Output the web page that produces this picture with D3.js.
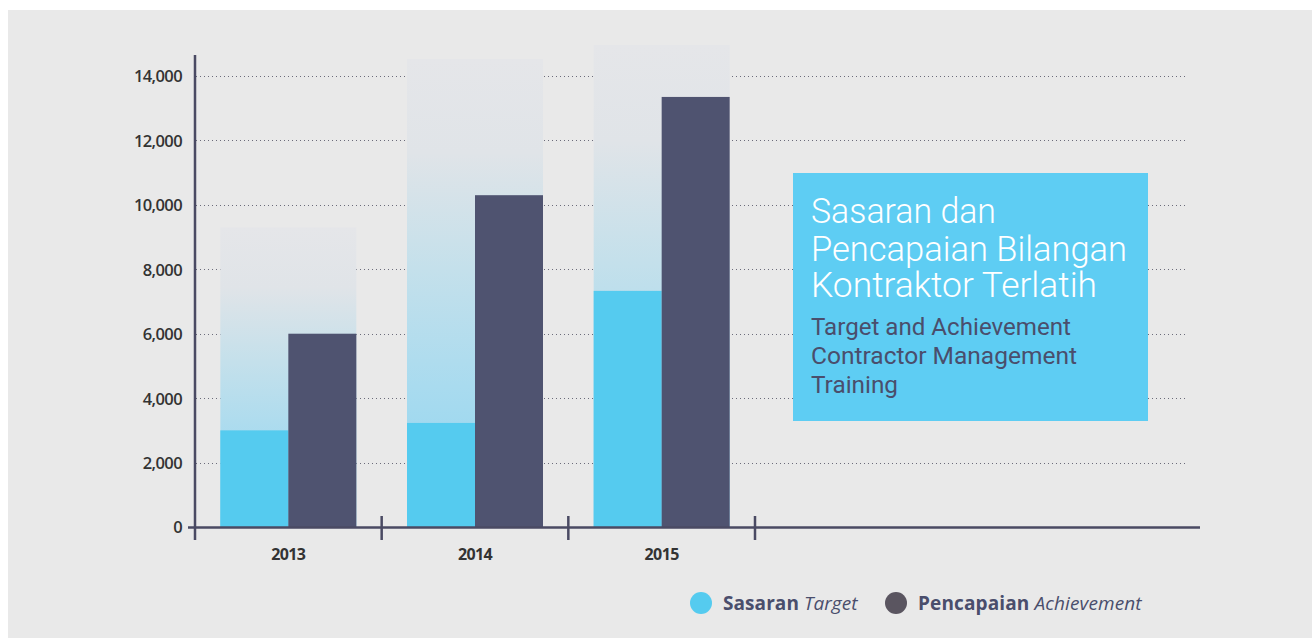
<!DOCTYPE html>
<html>
<head>
<meta charset="utf-8">
<script src="https://cdn.jsdelivr.net/npm/d3@7"></script>
<style>
  body { margin: 0; background: #fff; }
  svg { display: block; }
</style>
</head>
<body>
<div id="chart"></div>
<script>
var years = ["2013", "2014", "2015"];
var target = [3000, 3230, 7330];        // Sasaran
var achievement = [6000, 10300, 13350]; // Pencapaian
var backdrop = [9300, 14530, 14960];    // faded column behind each pair
var yTicks = [0, 2000, 4000, 6000, 8000, 10000, 12000, 14000];

var w = 1312, h = 638;

var svg = d3.select("#chart")
  .append("svg")
  .attr("width", w)
  .attr("height", h);

svg.append("rect")
  .attr("x", 8).attr("y", 10)
  .attr("width", w - 8).attr("height", h - 10)
  .attr("fill", "#e9e9e9");

// gradient for backdrop columns (relative to each column)
var defs = svg.append("defs");
var grad = defs.append("linearGradient")
  .attr("id", "fade")
  .attr("x1", 0).attr("x2", 0)
  .attr("y1", 1).attr("y2", 0);
grad.append("stop").attr("offset", "0%").attr("stop-color", "#8dd4ef");
grad.append("stop").attr("offset", "30%").attr("stop-color", "#a9dbef");
grad.append("stop").attr("offset", "55%").attr("stop-color", "#c4e0eb");
grad.append("stop").attr("offset", "80%").attr("stop-color", "#e0e4e8");
grad.append("stop").attr("offset", "100%").attr("stop-color", "#e5e6e9");

var x = d3.scaleBand()
  .domain(years)
  .range([195, 755])
  .paddingInner(0)
  .paddingOuter(0);

var y = d3.scaleLinear()
  .domain([0, 14000])
  .range([527, 76]);

var barW = 68;
var offset = (x.bandwidth() - 2 * barW) / 2;

// dotted grid lines
svg.append("g")
  .selectAll("line")
  .data(yTicks.slice(1))
  .enter()
  .append("line")
    .attr("x1", 196)
    .attr("x2", 1185)
    .attr("y1", function(d) { return Math.round(y(d)) + 0.5; })
    .attr("y2", function(d) { return Math.round(y(d)) + 0.5; })
    .attr("stroke", "#6b6b7a")
    .attr("stroke-width", 1)
    .style("stroke-dasharray", "1,3");

// backdrop columns
svg.append("g")
  .selectAll("rect")
  .data(backdrop)
  .enter()
  .append("rect")
    .attr("x", function(d, i) { return x(years[i]) + offset; })
    .attr("y", function(d) { return y(d); })
    .attr("width", barW * 2)
    .attr("height", function(d) { return y(0) - y(d); })
    .attr("fill", "url(#fade)");

// target bars
svg.append("g")
  .selectAll("rect")
  .data(target)
  .enter()
  .append("rect")
    .attr("x", function(d, i) { return x(years[i]) + offset; })
    .attr("y", function(d) { return y(d); })
    .attr("width", barW)
    .attr("height", function(d) { return y(0) - y(d); })
    .attr("fill", "#55cbef");

// achievement bars
svg.append("g")
  .selectAll("rect")
  .data(achievement)
  .enter()
  .append("rect")
    .attr("x", function(d, i) { return x(years[i]) + offset + barW; })
    .attr("y", function(d) { return y(d); })
    .attr("width", barW)
    .attr("height", function(d) { return y(0) - y(d); })
    .attr("fill", "#4f5370");

// y axis
var yAxis = d3.axisLeft(y)
  .tickValues(yTicks)
  .tickSize(7)
  .tickFormat(d3.format(","));

var gy = svg.append("g")
  .attr("transform", "translate(195,0)")
  .call(yAxis);
gy.select(".domain").remove();
gy.selectAll(".tick line").remove();
gy.selectAll(".tick text")
  .attr("x", -13)
  .attr("dy", "0.36em")
  .style("font-family", "'Open Sans', sans-serif")
  .style("font-size", "16.5px")
  .style("font-weight", 600)
  .style("letter-spacing", "-0.6px")
  .attr("fill", "#333");

svg.append("line")
  .attr("x1", 195).attr("x2", 195)
  .attr("y1", 55).attr("y2", 540)
  .attr("stroke", "#4a4a63")
  .attr("stroke-width", 2.5);

// x axis
svg.append("line")
  .attr("x1", 188).attr("x2", 1200)
  .attr("y1", 527.5).attr("y2", 527.5)
  .attr("stroke", "#4a4a63")
  .attr("stroke-width", 2.5);

svg.append("g")
  .selectAll("line")
  .data(years)
  .enter()
  .append("line")
    .attr("x1", function(d) { return x(d) + x.bandwidth(); })
    .attr("x2", function(d) { return x(d) + x.bandwidth(); })
    .attr("y1", 516).attr("y2", 540)
    .attr("stroke", "#4a4a63")
    .attr("stroke-width", 2.5);

svg.append("g")
  .selectAll("text")
  .data(years)
  .enter()
  .append("text")
    .attr("x", function(d) { return x(d) + x.bandwidth() / 2; })
    .attr("y", 560)
    .attr("text-anchor", "middle")
    .style("font-family", "'Open Sans', sans-serif")
    .style("font-size", "16px")
    .style("font-weight", 700)
    .style("letter-spacing", "-0.6px")
    .attr("fill", "#333")
    .text(function(d) { return d; });

// title box
svg.append("rect")
  .attr("x", 793).attr("y", 173)
  .attr("width", 355).attr("height", 248)
  .attr("fill", "#5ecdf3");

var titleLines = [
  {t: "Sasaran dan", y: 223, len: 185},
  {t: "Pencapaian Bilangan", y: 261, len: 316},
  {t: "Kontraktor Terlatih", y: 297, len: 286}
];
svg.append("g")
  .selectAll("text")
  .data(titleLines)
  .enter()
  .append("text")
    .attr("x", 811)
    .attr("y", function(d) { return d.y; })
    .attr("textLength", function(d) { return d.len; })
    .attr("lengthAdjust", "spacingAndGlyphs")
    .style("font-family", "Roboto, sans-serif")
    .style("font-size", "35px")
    .style("font-weight", 300)
    .attr("fill", "#fff")
    .text(function(d) { return d.t; });

var subLines = [
  {t: "Target and Achievement", y: 335, len: 260},
  {t: "Contractor Management", y: 364, len: 266},
  {t: "Training", y: 393, len: 87}
];
svg.append("g")
  .selectAll("text")
  .data(subLines)
  .enter()
  .append("text")
    .attr("x", 811)
    .attr("y", function(d) { return d.y; })
    .attr("textLength", function(d) { return d.len; })
    .attr("lengthAdjust", "spacingAndGlyphs")
    .style("font-family", "Roboto, sans-serif")
    .style("font-size", "24px")
    .style("font-weight", 400)
    .attr("fill", "#4a4e6c")
    .text(function(d) { return d.t; });

// legend
var legend = [
  {bold: "Sasaran", ital: "Target", color: "#55cbef", cx: 701, tx: 723, len: 134},
  {bold: "Pencapaian", ital: "Achievement", color: "#5a5560", cx: 896, tx: 918, len: 223}
];
var lg = svg.append("g")
  .selectAll("g")
  .data(legend)
  .enter()
  .append("g");
lg.append("circle")
  .attr("cx", function(d) { return d.cx; })
  .attr("cy", 603)
  .attr("r", 11)
  .attr("fill", function(d) { return d.color; });
var lt = lg.append("text")
  .attr("x", function(d) { return d.tx; })
  .attr("y", 610)
  .attr("textLength", function(d) { return d.len; })
  .attr("lengthAdjust", "spacing")
  .style("font-family", "'Open Sans', sans-serif")
  .style("font-size", "19px")
  .style("letter-spacing", "-0.6px")
  .attr("fill", "#4a4e6c");
lt.append("tspan")
  .style("font-weight", 700)
  .text(function(d) { return d.bold + " "; });
lt.append("tspan")
  .style("font-style", "italic")
  .text(function(d) { return d.ital; });
</script>
</body>
</html>
